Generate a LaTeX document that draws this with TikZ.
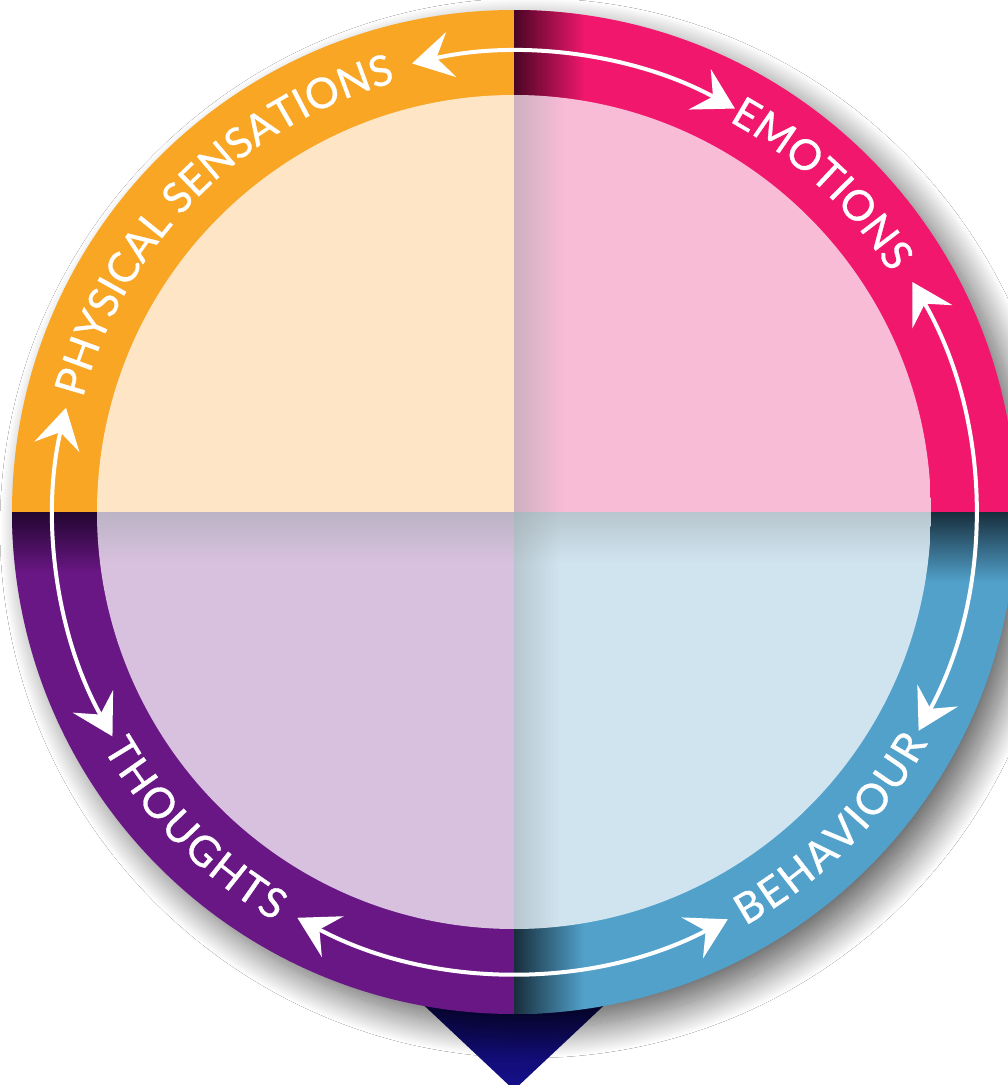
\documentclass[tikz,border=0pt]{standalone}
\usepackage{fontspec}
\setmainfont{Lato}
\newfontfamily\lblfont{Lato}[FakeBold=0.8]
\usetikzlibrary{arrows.meta,decorations.text,shadows.blur,fadings}
\definecolor{orng}{HTML}{F8A624}
\definecolor{peach}{HTML}{FDE5C5}
\definecolor{pnk}{HTML}{F0176D}
\definecolor{pnkdark}{HTML}{4A0624}
\definecolor{lpink}{HTML}{F9BCD6}
\definecolor{blu}{HTML}{52A1CB}
\definecolor{bludark}{HTML}{182E3C}
\definecolor{lblue}{HTML}{D0E4EF}
\definecolor{purp}{HTML}{691784}
\definecolor{purpdark}{HTML}{220630}
\definecolor{lav}{HTML}{D8C1DE}
\definecolor{fold}{HTML}{9AA3A8}
\definecolor{navytop}{HTML}{04042E}
\definecolor{navybot}{HTML}{16108C}
\tikzfading[name=fadeR, left color=transparent!0, middle color=transparent!65, right color=transparent!100]
\tikzfading[name=fadeD, top color=transparent!0, middle color=transparent!65, bottom color=transparent!100]
\tikzfading[name=softR, left color=transparent!55, right color=transparent!100]
\tikzfading[name=softD, top color=transparent!55, bottom color=transparent!100]
\tikzset{
  cyclearrow/.style={white, line width=4pt,
    {Stealth[length=40pt,width=46pt,inset=15pt]}-{Stealth[length=40pt,width=46pt,inset=15pt]}},
  ringlabel/.style={decorate, decoration={text along path, text align=fit to path,
    text={|\lblfont\fontsize{42}{42}\selectfont\color{white}|#1}}}
}
\begin{document}
\begin{tikzpicture}[x=1pt,y=1pt]
\useasboundingbox (-514,-573) rectangle (494,512);
\fill[white] (-514,-573) rectangle (494,512);
% pointer triangle
\shade[top color=navytop, bottom color=navybot] (-151,-436) -- (151,-436) -- (0,-578) -- cycle;
% outer disc with shadow
\fill[orng, blur shadow={shadow xshift=16pt, shadow yshift=-16pt, shadow blur radius=30pt, shadow blur steps=40, shadow opacity=65}] (0,0) circle (500);
\begin{scope}
  \clip (0,0) circle (502);
  \fill[orng] (-502,0) rectangle (0,502);
  \fill[pnk] (0,0) rectangle (502,502);
  \fill[blu] (0,-502) rectangle (502,0);
  \fill[purp] (-502,-502) rectangle (0,0);
  \fill[pnkdark, path fading=fadeR] (0,0) rectangle (70,502);
  \fill[bludark, path fading=fadeD] (0,-70) rectangle (502,0);
  \fill[bludark, path fading=fadeR] (0,-502) rectangle (70,0);
  \fill[purpdark, path fading=fadeD] (-502,-60) rectangle (0,0);
\end{scope}
% inner disc
\begin{scope}
  \clip (0,0) circle (417);
  \fill[peach] (-417,0) rectangle (0,417);
  \fill[lpink] (0,0) rectangle (417,417);
  \fill[lblue] (0,-417) rectangle (417,0);
  \fill[lav] (-417,-417) rectangle (0,0);
  \fill[fold, path fading=softR] (0,0) rectangle (50,417);
  \fill[fold, path fading=softD] (-417,-50) rectangle (0,0);
  \fill[fold, path fading=softR] (0,-417) rectangle (45,0);
  \fill[fold, path fading=softD] (0,-50) rectangle (417,0);
\end{scope}
% cycle arrows
\draw[cyclearrow] (102.8:460) arc[start angle=102.8, end angle=61.3, radius=460];
\draw[cyclearrow] (30:460) arc[start angle=30, end angle=-28.4, radius=460];
\draw[cyclearrow] (-62.3:460) arc[start angle=-62.3, end angle=-118.1, radius=460];
\draw[cyclearrow] (166.9:460) arc[start angle=166.9, end angle=209.2, radius=460];
% labels
\path[ringlabel={PHYSICAL SENSATIONS}] (165.2:446) arc[start angle=165.2, end angle=105.4, radius=446];
\path[ringlabel={EMOTIONS}] (61.2:446) arc[start angle=61.2, end angle=32.4, radius=446];
\path[ringlabel={BEHAVIOUR}] (-60.8:474) arc[start angle=-60.8, end angle=-29.2, radius=474];
\path[ringlabel={THOUGHTS}] (209.9:474) arc[start angle=209.9, end angle=239.7, radius=474];
\end{tikzpicture}
\end{document}
